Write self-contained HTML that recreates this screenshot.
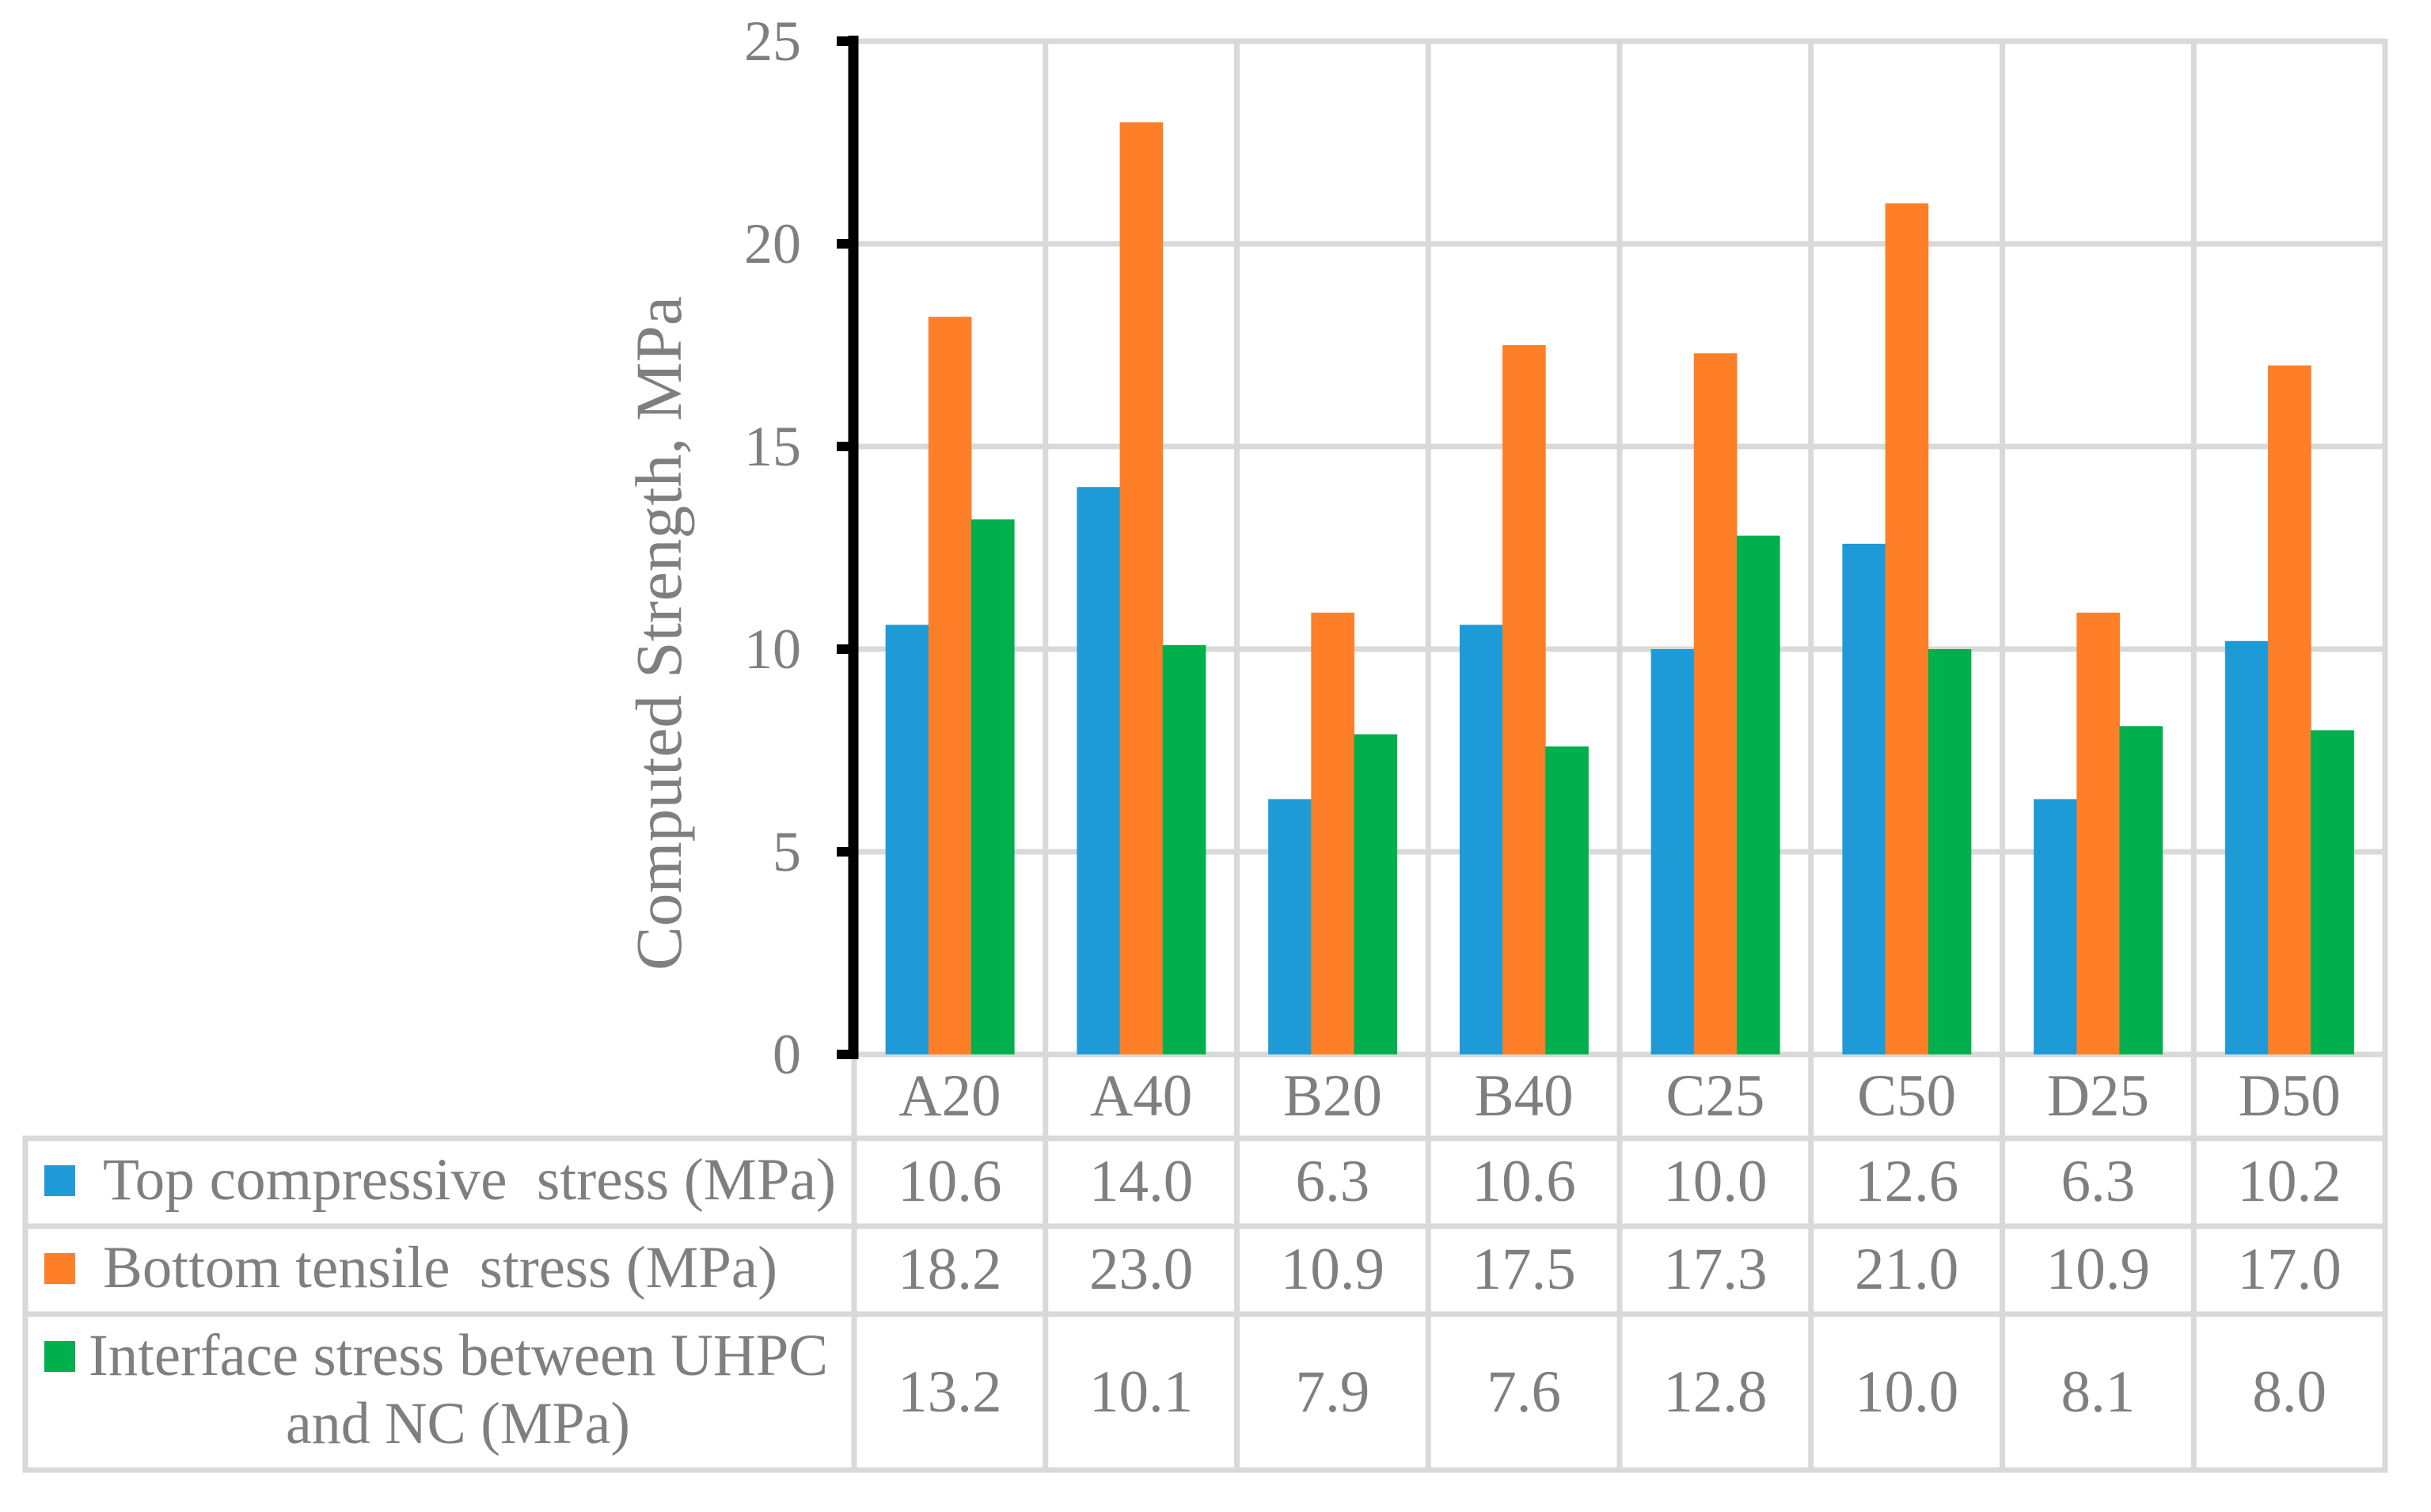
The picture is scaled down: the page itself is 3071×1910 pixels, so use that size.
<!DOCTYPE html>
<html><head><meta charset="utf-8"><style>
html,body{margin:0;padding:0;background:#fff;}
svg{display:block;}
text{font-family:"Liberation Serif",serif;fill:#7f7f7f;white-space:pre;}
</style></head><body>
<svg id="chart" width="3071" height="1910" viewBox="0 0 3071 1910" xmlns="http://www.w3.org/2000/svg" xml:space="preserve"></svg>
<script>
const categories = ["A20","A40","B20","B40","C25","C50","D25","D50"];
const topCompressive = [10.6,14.0,6.3,10.6,10.0,12.6,6.3,10.2];
const bottomTensile = [18.2,23.0,10.9,17.5,17.3,21.0,10.9,17.0];
const interfaceStress = [13.2,10.1,7.9,7.6,12.8,10.0,8.1,8.0];
const yTicks = [0,5,10,15,20,25];
const seriesNames = ["Top compressive  stress (MPa)","Bottom tensile  stress (MPa)","Interface stress between UHPC"];

const NS = "http://www.w3.org/2000/svg";
const svg = document.getElementById("chart");
const plotL = 1079, plotR = 3013, yTop = 52, yZero = 1332, yMax = 25;
const catW = (plotR - plotL) / categories.length;
const barW = catW * 0.224;
const colors = ["#1e9bd7","#fe7f27","#00b04c"];
const series = [topCompressive, bottomTensile, interfaceStress];
const grid = "#d9d9d9";
function y(v){ return yZero - (v / yMax) * (yZero - yTop); }
function xCat(i){ return plotL + i * catW; }
function el(tag, attrs, parent){
  const e = document.createElementNS(NS, tag);
  for (const k in attrs) e.setAttribute(k, attrs[k]);
  (parent || svg).appendChild(e);
  return e;
}
const rowLines = [1332, 1438, 1549, 1660, 1857];

yTicks.forEach(t => {
  if (t === 0) return;
  const g = el("line", {x1: plotL, x2: plotR, y1: y(t), y2: y(t), stroke: grid, "stroke-width": 7});
  
  
});
for (let i = 0; i <= categories.length; i++) {
  const v = el("line", {x1: xCat(i), x2: xCat(i), y1: (i === 0 ? yZero : yTop - 3), y2: 1860, stroke: grid, "stroke-width": 7});
  
  
}
rowLines.forEach((ry, idx) => {
  const l = el("line", {x1: idx === 0 ? plotL - 3 : 29, x2: plotR + 3, y1: ry, y2: ry, stroke: grid, "stroke-width": 7});
  
  
});
const lb = el("line", {x1: 32, x2: 32, y1: 1435, y2: 1860, stroke: grid, "stroke-width": 7});



categories.forEach((c, i) => {
  const gx = xCat(i) + catW / 2 - 1.5 * barW;
  series.forEach((s, k) => {
    const r = el("rect", {x: gx + k * barW, y: y(s[i]), width: barW + 0.5, height: yZero - y(s[i]), fill: colors[k]});
    
    
  });
});

const ax = el("line", {x1: 1078, x2: 1078, y1: 45, y2: 1338, stroke: "#000", "stroke-width": 13});


yTicks.forEach(t => {
  const tk = el("line", {x1: 1057, x2: 1084, y1: y(t), y2: y(t), stroke: "#000", "stroke-width": 12});
  
  
  const lbl = el("text", {x: 1012, y: y(t) + 24, "text-anchor": "end", "font-size": 72});
  lbl.textContent = t;
  
  
});
const title = el("text", {x: 0, y: 0, "text-anchor": "middle", "font-size": 83, textLength: 852, lengthAdjust: "spacingAndGlyphs", transform: "translate(860,800) rotate(-90)"});
title.textContent = "Computed Strength, MPa";



const valueRows = [[topCompressive, 1517], [bottomTensile, 1628], [interfaceStress, 1783]];
categories.forEach((c, i) => {
  const cx = xCat(i) + catW / 2;
  const t = el("text", {x: cx, y: 1409, "text-anchor": "middle", "font-size": 75});
  t.textContent = c;
  
  
  valueRows.forEach((vr, k) => {
    const v = el("text", {x: cx, y: vr[1], "text-anchor": "middle", "font-size": 75});
    v.textContent = vr[0][i].toFixed(1);
    
    
  });
});

const legendY = [1472, 1583, 1694];
legendY.forEach((ly, k) => {
  const sq = el("rect", {x: 56, y: ly, width: 39, height: 39, fill: colors[k]});
  
  
});
const n1 = el("text", {x: 130, y: 1515, "font-size": 75, textLength: 926, lengthAdjust: "spacingAndGlyphs"});
n1.textContent = seriesNames[0];


const n2 = el("text", {x: 130, y: 1626, "font-size": 75, textLength: 852, lengthAdjust: "spacingAndGlyphs"});
n2.textContent = seriesNames[1];


const n3 = el("text", {x: 112, y: 1737, "font-size": 75, textLength: 934, lengthAdjust: "spacingAndGlyphs"});
n3.textContent = seriesNames[2];


const n4 = el("text", {x: 361, y: 1823, "font-size": 75, textLength: 435, lengthAdjust: "spacingAndGlyphs"});
n4.textContent = "and NC (MPa)";


</script>
</body></html>
